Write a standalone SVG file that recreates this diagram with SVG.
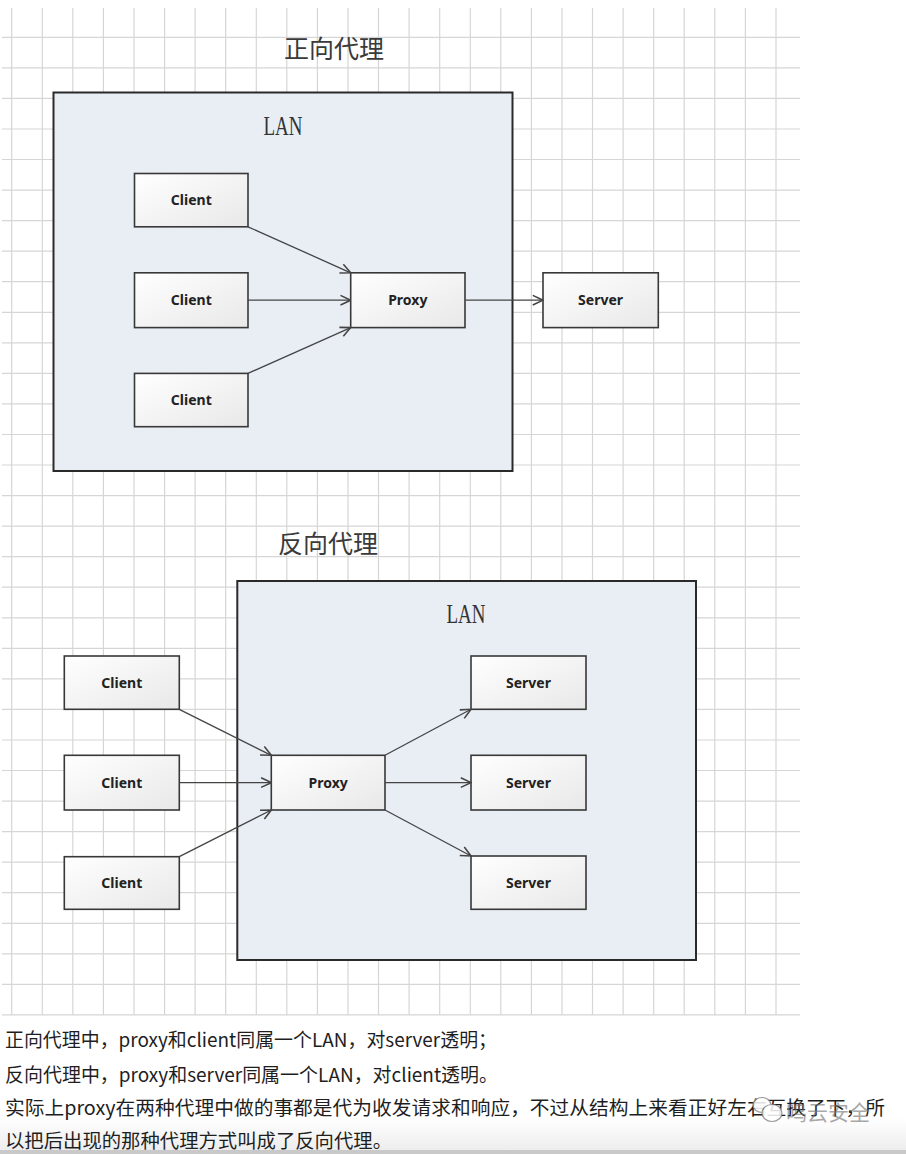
<svg xmlns="http://www.w3.org/2000/svg" width="906" height="1154" viewBox="0 0 906 1154">
<style>
.grid{stroke:#d6d6d6;stroke-width:1.2;fill:none}
.lan{fill:#e9eef5;stroke:#2a2a2a;stroke-width:2}
.node{fill:url(#ng);stroke:#383838;stroke-width:1.6}
.nt{font-family:"Noto Sans","Open Sans","Liberation Sans",sans-serif;font-weight:bold;font-size:14px;fill:#222;text-anchor:middle}
.title{font-family:"Noto Sans CJK SC","Noto Sans",sans-serif;font-size:25px;fill:#3a3a3a;text-anchor:middle}
.lant{font-family:"Liberation Serif","DejaVu Serif",serif;font-size:27px;fill:#333;text-anchor:middle}
.conn{stroke:#444;stroke-width:1.3;fill:none;marker-end:url(#arr)}
.para{font-family:"Noto Sans CJK SC","Noto Sans",sans-serif;font-size:19px;fill:#1e1e1e}
.wm{font-family:"Noto Sans CJK SC",sans-serif;font-size:21px;fill:#777;opacity:0.75}
</style>
<defs>
<linearGradient id="ng" x1="0" y1="0" x2="1" y2="1">
<stop offset="0" stop-color="#ffffff"/>
<stop offset="1" stop-color="#e8e8e8"/>
</linearGradient>
<linearGradient id="bot" x1="0" y1="0" x2="0" y2="1">
<stop offset="0" stop-color="#ffffff"/>
<stop offset="1" stop-color="#ededed"/>
</linearGradient>
<marker id="arr" markerUnits="userSpaceOnUse" markerWidth="12" markerHeight="12" viewBox="0 0 10 10" refX="9.5" refY="5" orient="auto">
<path d="M1,1 L9.5,5 L1,9" fill="none" stroke="#444" stroke-width="1.3"/>
</marker>
</defs>
<rect x="0" y="0" width="906" height="1154" fill="#ffffff"/>
<rect x="0" y="1118" width="906" height="32" fill="url(#bot)"/>
<rect x="0" y="1150" width="906" height="4" fill="#c9c9c9"/>
<g id="grid">
<path class="grid" d="M11.7 8V1015M42.3 8V1015M72.8 8V1015M103.4 8V1015M134 8V1015M164.6 8V1015M195.1 8V1015M225.7 8V1015M256.3 8V1015M286.8 8V1015M317.4 8V1015M348 8V1015M378.5 8V1015M409.1 8V1015M439.7 8V1015M470.3 8V1015M500.8 8V1015M531.4 8V1015M562 8V1015M592.5 8V1015M623.1 8V1015M653.7 8V1015M684.2 8V1015M714.8 8V1015M745.4 8V1015M776 8V1015"/>
<path class="grid" d="M2 37.3H800M2 67.9H800M2 98.4H800M2 129H800M2 159.5H800M2 190.1H800M2 220.6H800M2 251.2H800M2 281.7H800M2 312.3H800M2 342.8H800M2 373.4H800M2 403.9H800M2 434.5H800M2 465H800M2 495.6H800M2 526.1H800M2 556.7H800M2 587.2H800M2 617.8H800M2 648.3H800M2 678.9H800M2 709.4H800M2 740H800M2 770.5H800M2 801.1H800M2 831.6H800M2 862.2H800M2 892.7H800M2 923.3H800M2 953.8H800M2 984.4H800M2 1014.9H800"/>
</g>
<g id="forward-title"><text class="title" x="334" y="58">正向代理</text></g>
<g id="forward-lan">
<rect class="lan" x="53.5" y="92.5" width="459" height="378.5"/>
<text class="lant" x="283" y="135" textLength="39" lengthAdjust="spacingAndGlyphs">LAN</text>
</g>
<g id="f-client1"><rect class="node" x="134.5" y="173.5" width="113.5" height="53.3"/><text class="nt" x="191.3" y="205">Client</text></g>
<g id="f-client2"><rect class="node" x="134.5" y="272.8" width="113.5" height="54.8"/><text class="nt" x="191.3" y="305">Client</text></g>
<g id="f-client3"><rect class="node" x="134.5" y="373.4" width="113.5" height="53.3"/><text class="nt" x="191.3" y="405">Client</text></g>
<g id="f-proxy"><rect class="node" x="350.7" y="272.8" width="114.3" height="54.8"/><text class="nt" x="407.8" y="305">Proxy</text></g>
<g id="f-server"><rect class="node" x="543" y="272.8" width="115.3" height="54.8"/><text class="nt" x="600.6" y="305">Server</text></g>
<g id="reverse-title"><text class="title" x="328" y="553">反向代理</text></g>
<g id="reverse-lan">
<rect class="lan" x="237.3" y="581" width="458.7" height="379"/>
<text class="lant" x="466" y="623" textLength="39" lengthAdjust="spacingAndGlyphs">LAN</text>
</g>
<g id="r-client1"><rect class="node" x="64.3" y="656" width="115" height="53.3"/><text class="nt" x="121.8" y="688">Client</text></g>
<g id="r-client2"><rect class="node" x="64.3" y="755.3" width="115" height="54.7"/><text class="nt" x="121.8" y="788">Client</text></g>
<g id="r-client3"><rect class="node" x="64.3" y="856.7" width="115" height="52.6"/><text class="nt" x="121.8" y="888">Client</text></g>
<g id="r-proxy"><rect class="node" x="271.3" y="755.3" width="113.7" height="54.7"/><text class="nt" x="328.2" y="788">Proxy</text></g>
<g id="r-server1"><rect class="node" x="471" y="656" width="115" height="53.3"/><text class="nt" x="528.5" y="688">Server</text></g>
<g id="r-server2"><rect class="node" x="471" y="755.3" width="115" height="54.7"/><text class="nt" x="528.5" y="788">Server</text></g>
<g id="r-server3"><rect class="node" x="471" y="856" width="115" height="53.3"/><text class="nt" x="528.5" y="888">Server</text></g>
<g id="connectors">
<path class="conn" d="M248 226.8L350.7 272.8"/>
<path class="conn" d="M248 300.2H350.7"/>
<path class="conn" d="M248 373.4L350.7 327.6"/>
<path class="conn" d="M465 300.2H543"/>
<path class="conn" d="M179.3 709.3L271.3 755.3"/>
<path class="conn" d="M179.3 782.6H271.3"/>
<path class="conn" d="M179.3 856.7L271.3 810"/>
<path class="conn" d="M385 755.3L471 709.3"/>
<path class="conn" d="M385 782.6H471"/>
<path class="conn" d="M385 810L471 856"/>
</g>
<g id="caption">
<text class="para" x="5" y="1047" textLength="492" lengthAdjust="spacingAndGlyphs">正向代理中，proxy和client同属一个LAN，对server透明；</text>
<text class="para" x="5" y="1082" textLength="493" lengthAdjust="spacingAndGlyphs">反向代理中，proxy和server同属一个LAN，对client透明。</text>
<text class="para" x="5" y="1115" textLength="880" lengthAdjust="spacingAndGlyphs">实际上proxy在两种代理中做的事都是代为收发请求和响应，不过从结构上来看正好左右互换了下，所</text>
<text class="para" x="5" y="1148" textLength="387" lengthAdjust="spacingAndGlyphs">以把后出现的那种代理方式叫成了反向代理。</text>
</g>
<g id="watermark" opacity="0.85">
<ellipse cx="762" cy="1105" rx="9" ry="7.5" fill="#fff" stroke="#888" stroke-width="1.2"/>
<ellipse cx="772" cy="1113" rx="10" ry="8.5" fill="#fff" stroke="#888" stroke-width="1.2"/>
<text class="wm" x="786" y="1120">鸣云安全</text>
</g>
</svg>
